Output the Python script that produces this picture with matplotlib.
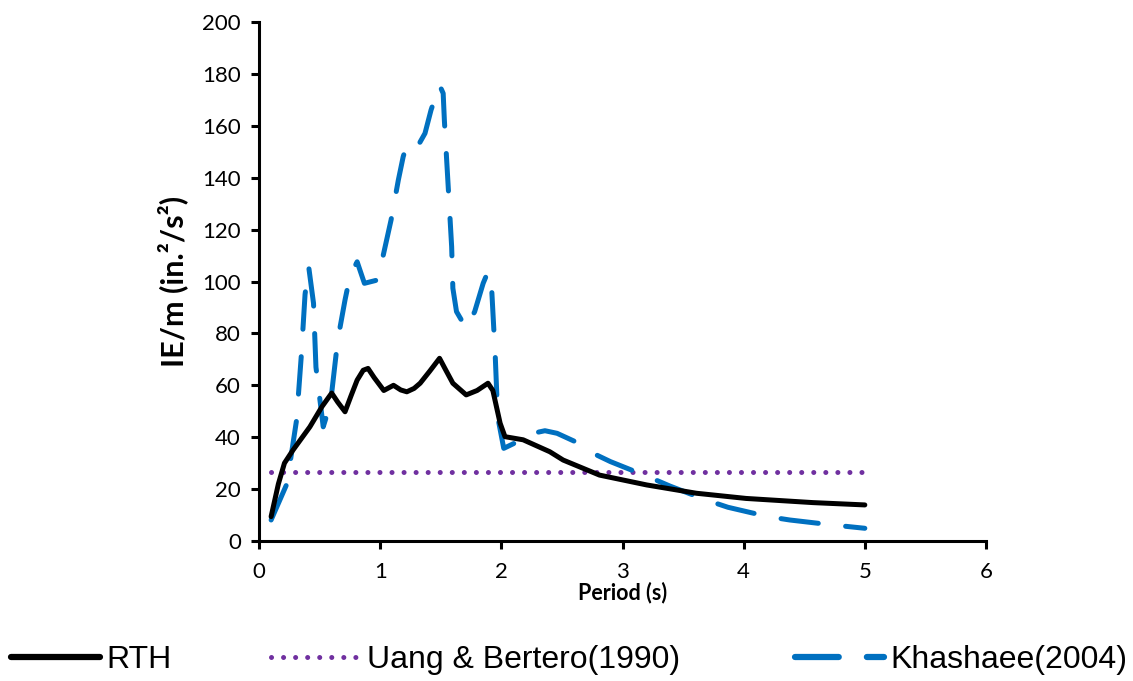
import matplotlib
matplotlib.use("Agg")
import matplotlib.pyplot as plt
from matplotlib.lines import Line2D

# period (s) and input energy per unit mass (in.^2/s^2)
rth_T = [0.10, 0.16, 0.21, 0.28, 0.35, 0.42, 0.52, 0.60, 0.65, 0.71, 0.76, 0.81, 0.86,
         0.90, 0.95, 1.03, 1.11, 1.17, 1.22, 1.28, 1.33, 1.41, 1.49, 1.54, 1.60, 1.71,
         1.80, 1.89, 1.93, 1.99, 2.03, 2.18, 2.40, 2.51, 2.81, 3.20, 3.61, 4.02, 4.57,
         5.00]
rth_E = [9.4, 22.0, 30.0, 35.0, 39.5, 44.0, 51.8, 57.0, 53.5, 49.8, 56.0, 62.0, 65.8,
         66.5, 63.0, 58.0, 60.0, 58.2, 57.5, 58.8, 60.8, 65.5, 70.4, 66.0, 60.8, 56.3,
         58.0, 60.8, 58.0, 45.4, 40.2, 39.0, 34.4, 31.2, 25.4, 21.6, 18.4, 16.4, 14.8,
         13.9]

kh_T = [0.10, 0.23, 0.31, 0.35, 0.38, 0.41, 0.45, 0.47, 0.53, 0.59, 0.65, 0.71, 0.75,
        0.81, 0.87, 0.98, 1.05, 1.09, 1.15, 1.19, 1.22, 1.30, 1.37, 1.42, 1.49, 1.52,
        1.53, 1.56, 1.59, 1.60, 1.63, 1.71, 1.78, 1.85, 1.89, 1.92, 1.95, 1.97, 2.02,
        2.10, 2.26, 2.36, 2.46, 2.60, 2.73, 2.90, 3.21, 3.39, 3.69, 3.87, 4.20, 4.38,
        4.73, 5.00]
kh_E = [8.1, 22.0, 46.6, 72.0, 95.0, 105.7, 91.6, 67.0, 44.0, 53.0, 77.5, 92.9, 101.9,
        107.6, 99.3, 100.6, 115.3, 123.7, 139.1, 148.1, 152.6, 151.3, 157.1, 166.1, 175.7,
        172.5, 162.0, 137.8, 113.4, 97.4, 88.4, 82.0, 88.4, 99.3, 103.8, 97.4, 71.0, 47.9,
        35.7, 37.5, 41.5, 42.5, 41.5, 38.5, 34.4, 30.6, 24.8, 21.2, 15.8, 13.0, 9.4, 8.1,
        6.2, 4.9]

ub_T = [0.10, 5.00]
ub_E = [26.5, 26.5]

labels = ["RTH", "Uang & Bertero(1990)", "Khashaee(2004)"]

tick_font = ["Lato", "DejaVu Sans"]
leg_font = ["Liberation Sans", "DejaVu Sans"]

W, H = 1133, 681
fig = plt.figure(figsize=(W / 100, H / 100), dpi=100)
ax = fig.add_axes([259 / W, (H - 541) / H, (986 - 259) / W, (541 - 22) / H])

blue = "#0070C0"
purple = "#7030A0"
dots = (0, (0.01, 2.4))
dash = (0, (7.5, 5.5))

ax.plot(ub_T, ub_E, color=purple, lw=3.6, linestyle=dots, dash_capstyle="round")
ax.plot(kh_T, kh_E, color=blue, lw=3.6, linestyle=dash,
        dash_capstyle="round", dash_joinstyle="round")
ax.plot(rth_T, rth_E, color="black", lw=3.6, solid_capstyle="round",
        solid_joinstyle="round")

ax.set_xlim(0, 6)
ax.set_ylim(0, 200)
ax.set_xticks(range(0, 7))
ax.set_yticks(range(0, 201, 20))
for s in ["top", "right"]:
    ax.spines[s].set_visible(False)
for s in ["left", "bottom"]:
    ax.spines[s].set_linewidth(2.2)
ax.tick_params(direction="out", length=6, width=2.2, labelsize=16)
ax.tick_params(axis="x", pad=9)
ax.tick_params(axis="y", pad=7)
for lab in ax.get_xticklabels() + ax.get_yticklabels():
    lab.set_family(tick_font)

ax.set_xlabel("Period (s)", fontsize=15.5, fontweight="bold", family=tick_font,
              labelpad=0)
ax.set_ylabel("IE/m (in.²/s²)", fontsize=22, fontweight="bold", family=tick_font,
              labelpad=10)

handles = [
    Line2D([], [], color="black", lw=4.5, solid_capstyle="round"),
    Line2D([], [], color=purple, lw=3.6, linestyle=dots, dash_capstyle="round"),
    Line2D([], [], color=blue, lw=4.5, linestyle=(0, (7.0, 4.5)), dash_capstyle="round"),
]
# one legend per entry so each sits where it should along the bottom
for h, lab, x0 in zip(handles, labels, [11, 271, 795]):
    fig.legend([h], [lab], loc="center left", bbox_to_anchor=(x0 / W, 21 / H),
               frameon=False, handlelength=2.8, handletextpad=0.2,
               borderpad=0, borderaxespad=0,
               prop={"family": leg_font, "size": 23})

fig.savefig("out.png", dpi=100)
